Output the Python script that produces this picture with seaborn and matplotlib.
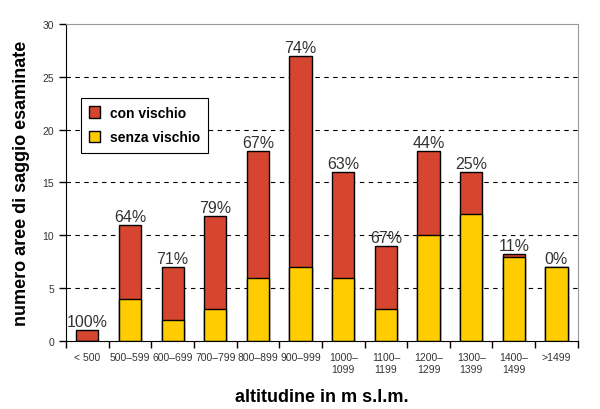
"""
Aree di saggio con e senza vischio per fascia altitudinale
"""
import matplotlib
matplotlib.use('Agg')
import matplotlib.pyplot as plt
from matplotlib.patches import Patch
import seaborn as sns
import pandas as pd

# Fasce altitudinali e conteggi
fasce = ['< 500', '500–599', '600–699', '700–799', '800–899', '900–999',
         '1000–\n1099', '1100–\n1199', '1200–\n1299', '1300–\n1399',
         '1400–\n1499', '>1499']
senza_vischio = [0, 4, 2, 3, 6, 7, 6, 3, 10, 12, 7.9, 7]
con_vischio = [1, 7, 5, 8.8, 12, 20, 10, 6, 8, 4, 0.3, 0]
percentuali = ['100%', '64%', '71%', '79%', '67%', '74%', '63%', '67%',
               '44%', '25%', '11%', '0%']

ROSSO = '#D6452F'
GIALLO = '#FFCC00'

df = pd.DataFrame({'fascia': fasce, 'senza': senza_vischio, 'con': con_vischio})
df['totale'] = df['senza'] + df['con']

sns.set_style('white')
plt.rcParams['font.family'] = ['Liberation Sans', 'DejaVu Sans']

fig = plt.figure(figsize=(6, 4.1), dpi=100)
ax = fig.add_axes([0.11, 0.166, 0.853, 0.773])

# barre totali (rosse) e parte senza vischio (gialla) sovrapposta
sns.barplot(data=df, x='fascia', y='totale', color=ROSSO, width=0.52,
            edgecolor='black', linewidth=1, saturation=1, ax=ax)
sns.barplot(data=df, x='fascia', y='senza', color=GIALLO, width=0.52,
            edgecolor='black', linewidth=1, saturation=1, ax=ax)

# etichette percentuali sopra le barre
for i, (tot, pct) in enumerate(zip(df['totale'], percentuali)):
    ax.text(i, tot + 0.1, pct, ha='center', va='bottom', fontsize=11.5, color='#333333')

ax.set_xlim(-0.5, len(fasce) - 0.5)
ax.set_ylim(0, 30)
ax.set_yticks(range(0, 31, 5))
for y in range(5, 30, 5):
    ax.axhline(y, color='black', linestyle=(0, (4, 4)), linewidth=0.8, zorder=0)

ax.spines['left'].set_color('black')
ax.spines['bottom'].set_color('black')
ax.spines['top'].set_color('#999999')
ax.spines['right'].set_color('#999999')

# tacche dell'asse x ai confini tra le categorie
ax.set_xticks(range(len(fasce)))
ax.set_xticks([i - 0.5 for i in range(len(fasce) + 1)], minor=True)
ax.tick_params(axis='x', which='major', length=0, labelsize=7.5, labelcolor='#333333', pad=8)
ax.tick_params(axis='x', which='minor', length=5, width=1, direction='out', color='black', bottom=True)
ax.tick_params(axis='y', length=5, width=1, direction='out', color='black', left=True,
               labelsize=7.5, labelcolor='#333333')

ax.set_xlabel('altitudine in m s.l.m.', fontsize=13, fontweight='bold', color='black', labelpad=10)
ax.set_ylabel('numero aree di saggio esaminate', fontsize=13, fontweight='bold', color='black',
              labelpad=9)

handles = [Patch(facecolor=ROSSO, edgecolor='black', label='con vischio'),
           Patch(facecolor=GIALLO, edgecolor='black', label='senza vischio')]
leg = ax.legend(handles=handles, loc='upper left', bbox_to_anchor=(0.015, 0.79),
                frameon=True, fancybox=False, edgecolor='black', framealpha=1,
                fontsize=10, handlelength=0.8, handleheight=0.9, labelspacing=0.75,
                borderpad=0.6, handletextpad=0.7)
leg.get_frame().set_linewidth(0.8)
for t in leg.get_texts():
    t.set_fontweight('bold')
    t.set_color('black')

fig.savefig('out.png', dpi=100)
